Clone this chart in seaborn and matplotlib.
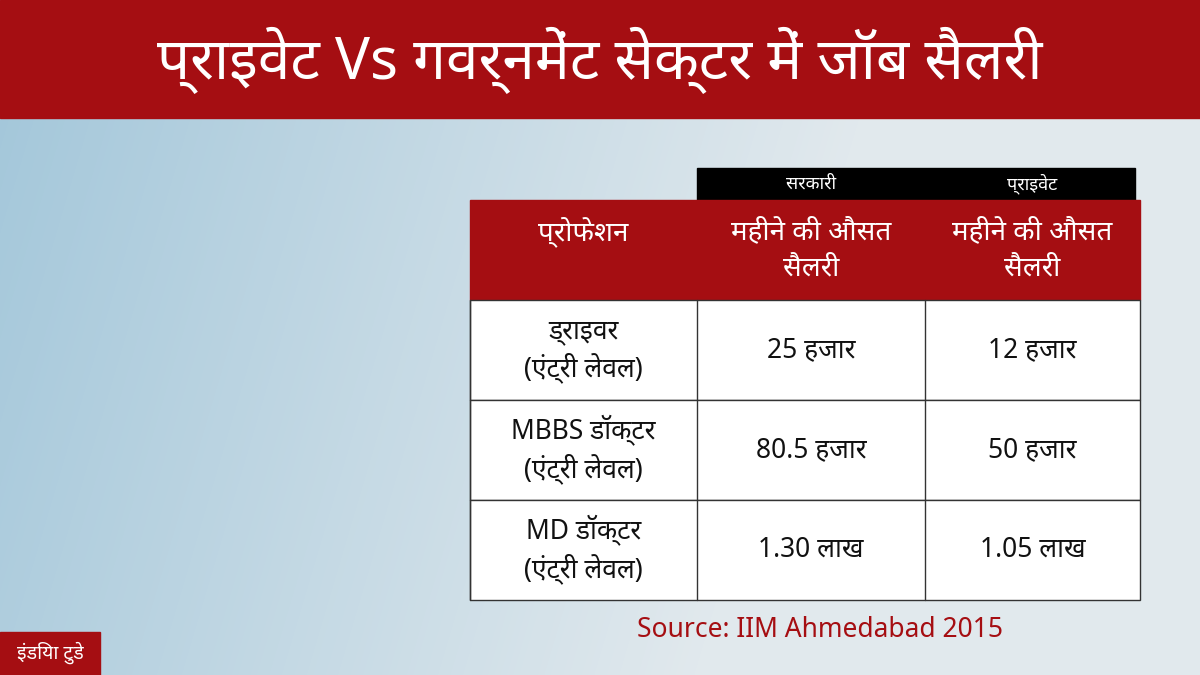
import numpy as np
import matplotlib.pyplot as plt
import seaborn as sns
from matplotlib.patches import Rectangle

sns.set_theme(style="white")
plt.rcParams['font.family'] = ['Noto Sans', 'DejaVu Sans', 'Noto Sans CJK SC']

title = "प्राइवेट Vs गवर्नमेंट सेक्टर में जॉब सैलरी"
sectors = ["सरकारी", "प्राइवेट"]
header = ["प्रोफेशन", "महीने की औसत\nसैलरी", "महीने की औसत\nसैलरी"]
professions = ["ड्राइवर\n(एंट्री लेवल)", "MBBS डॉक्टर\n(एंट्री लेवल)", "MD डॉक्टर\n(एंट्री लेवल)"]
govt = ["25 हजार", "80.5 हजार", "1.30 लाख"]
private = ["12 हजार", "50 हजार", "1.05 लाख"]
source = "Source: IIM Ahmedabad 2015"

red = "#a50e12"
fig = plt.figure(figsize=(12, 6.75), dpi=100)
ax = fig.add_axes([0, 0, 1, 1])
ax.set_xlim(0, 1200)
ax.set_ylim(675, 0)
ax.axis("off")

# soft blue background
yy, xx = np.mgrid[0:675, 0:1200]
bg = 0.55 + 0.45 * np.clip(xx / 900, 0, 1) + 0.1 * (yy / 675)
ax.imshow(np.clip(bg, 0, 1), cmap=sns.light_palette("#7fb3cf", as_cmap=True, reverse=True),
          extent=[0, 1200, 675, 0], aspect="auto", vmin=0.3, vmax=1.1, zorder=0)

ax.add_patch(Rectangle((0, 0), 1200, 118, color=red, zorder=1))
ax.text(600, 60, title, color="white", fontsize=42, fontweight="bold", ha="center", va="center", zorder=2)

cols = [470, 697, 925, 1140]
# sector band
ax.add_patch(Rectangle((697, 168), 438, 32, color="black", zorder=1))
for i, s in enumerate(sectors):
    ax.text((cols[i + 1] + cols[i + 2]) / 2, 184, s, color="white", fontsize=13,
            fontweight="bold", ha="center", va="center", zorder=2)

ax.add_patch(Rectangle((470, 200), 670, 100, color=red, zorder=1))
for i, h in enumerate(header):
    ax.text((cols[i] + cols[i + 1]) / 2, 250 if i else 232, h, color="white", fontsize=20,
            fontweight="bold", ha="center", va="center", linespacing=1.4, zorder=2)

for r, (p, g, pr) in enumerate(zip(professions, govt, private)):
    top = 300 + r * 100
    ax.add_patch(Rectangle((470, top), 670, 100, facecolor="white", edgecolor="#333333", lw=1, zorder=1))
    for c in range(3):
        ax.plot([cols[c], cols[c]], [top, top + 100], color="#333333", lw=1, zorder=2)
    for c, t in enumerate([p, g, pr]):
        ax.text((cols[c] + cols[c + 1]) / 2, top + 50, t, color="#111111", fontsize=19,
                fontweight="bold", ha="center", va="center", linespacing=1.3, zorder=3)

ax.text(820, 630, source, color=red, fontsize=19, fontweight="bold", ha="center", va="center", zorder=2)

ax.add_patch(Rectangle((0, 632), 100, 43, color=red, zorder=1))
ax.text(50, 653, "इंडिया टुडे", color="white", fontsize=14, fontweight="bold", ha="center", va="center", zorder=2)

fig.savefig("out.png", dpi=100)
